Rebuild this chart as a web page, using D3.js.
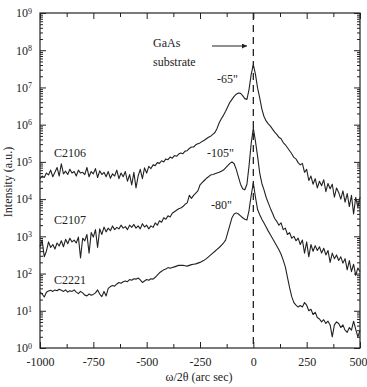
<!DOCTYPE html>
<html>
<head>
<meta charset="utf-8">
<script src="https://cdn.jsdelivr.net/npm/d3@7"></script>
<style>
body { margin: 0; background: #fff; }
text { font-family: "Liberation Serif", "Times New Roman", serif; fill: #222; }
</style>
</head>
<body>
<svg id="chart" width="367" height="387"></svg>
<script>
// x positions of the scans (arc sec), one sample every 10"
var angles = d3.range(-1000, 501, 10);

var xTicks = [-1000, -750, -500, -250, 0, 250, 500];
var xMinor = [-875, -625, -375, -125, 125, 375];
var yDecades = [0, 1, 2, 3, 4, 5, 6, 7, 8, 9];

// log10 of intensity
var c2106 = [
	4.55, 4.62, 4.58, 4.70, 4.65, 4.78, 4.60, 4.72, 4.85, 4.62,
	4.95, 4.68, 4.75, 4.66, 4.80, 4.70, 4.74, 4.62, 4.78, 4.70,
	4.72, 4.66, 4.85, 4.60, 4.74, 4.68, 4.82, 4.58, 4.76, 4.66,
	4.72, 4.60, 4.74, 4.56, 4.68, 4.62, 4.78, 4.55, 4.70, 4.60,
	4.74, 4.48, 4.66, 4.38, 4.72, 4.30, 4.62, 4.80, 4.55, 4.84,
	4.70, 4.88, 4.82, 4.92, 4.90, 4.98, 4.96, 5.03, 5.00, 5.08,
	5.06, 5.13, 5.10, 5.17, 5.15, 5.21, 5.24, 5.22, 5.29, 5.30,
	5.36, 5.40, 5.40, 5.46, 5.49, 5.51, 5.55, 5.58, 5.62, 5.66,
	5.69, 5.74, 5.79, 5.90, 6.05, 6.16, 6.25, 6.36, 6.48, 6.60,
	6.68, 6.76, 6.82, 6.85, 6.84, 6.78, 6.70, 6.68, 6.95, 7.35,
	7.61, 7.35, 6.98, 6.72, 6.42, 6.22, 6.10, 6.02, 5.96, 5.88,
	5.80, 5.74, 5.66, 5.62, 5.52, 5.46, 5.38, 5.30, 5.22, 5.12,
	5.08, 4.98, 4.92, 4.96, 4.72, 4.80, 4.50, 4.62, 4.40, 4.55,
	4.30, 4.48, 4.36, 4.52, 4.20, 4.42, 4.28, 4.40, 4.05, 4.30,
	4.18, 4.00, 4.22, 3.92, 4.15, 3.80, 4.10, 3.60, 4.05, 3.78,
	4.05
];

var c2107 = [
	2.72, 2.90, 2.45, 2.60, 2.85, 2.70, 2.78, 2.66, 2.82, 2.74,
	2.88, 2.72, 2.92, 2.80, 2.95, 2.85, 2.90, 2.82, 2.98, 2.42,
	2.95, 2.88, 3.05, 2.55, 3.10, 2.98, 3.18, 2.70, 3.20, 3.05,
	3.25, 3.12, 3.22, 3.15, 3.28, 3.18, 3.24, 3.20, 3.30, 3.22,
	3.26, 3.18, 3.30, 3.24, 3.32, 3.22, 3.28, 3.20, 3.34, 3.25,
	3.30, 3.20, 3.28, 3.24, 3.36, 3.30, 3.42, 3.38, 3.50, 3.46,
	3.55, 3.52, 3.62, 3.66, 3.70, 3.74, 3.76, 3.80, 3.86, 3.90,
	4.10, 4.02, 4.10, 4.16, 4.22, 4.38, 4.44, 4.50, 4.56, 4.60,
	4.65, 4.66, 4.68, 4.70, 4.72, 4.75, 4.78, 4.84, 4.90, 4.96,
	5.00, 4.95, 4.80, 4.60, 4.40, 4.28, 4.25, 4.40, 4.90, 5.50,
	5.91, 5.55, 5.15, 4.70, 4.42, 4.25, 4.05, 3.90, 3.75, 3.62,
	3.48, 3.40, 3.30, 3.36, 3.18, 3.22, 3.05, 3.10, 2.95, 3.00,
	2.88, 2.95, 2.78, 2.90, 2.55, 2.85, 2.45, 2.78, 2.60, 2.75,
	2.62, 2.72, 2.55, 2.68, 2.50, 2.62, 2.30, 2.55, 2.40, 2.50,
	2.35, 2.45, 2.28, 2.40, 2.10, 2.35, 2.05, 2.25, 1.95, 2.15,
	2.05
];

var c2221 = [
	1.51, 1.45, 1.37, 1.50, 1.53, 1.55, 1.52, 1.56, 1.54, 1.58,
	1.55, 1.52, 1.56, 1.50, 1.54, 1.52, 1.56, 1.50, 1.46, 1.52,
	1.48, 1.42, 1.40, 1.45, 1.42, 1.44, 1.48, 1.56, 1.45, 1.38,
	1.52, 1.40, 1.60, 1.65, 1.68, 1.66, 1.72, 1.76, 1.74, 1.78,
	1.80, 1.78, 1.84, 1.82, 1.86, 1.85, 1.88, 1.83, 1.76, 1.80,
	1.84, 1.82, 1.86, 1.85, 1.90, 1.96, 2.02, 2.06, 2.10, 2.12,
	2.16, 2.14, 2.16, 2.18, 2.20, 2.22, 2.22, 2.22, 2.21, 2.20,
	2.22, 2.24, 2.25, 2.26, 2.28, 2.30, 2.33, 2.36, 2.40, 2.45,
	2.50, 2.55, 2.60, 2.65, 2.70, 2.76, 2.82, 2.90, 3.10, 3.30,
	3.50, 3.60, 3.63, 3.60, 3.55, 3.50, 3.46, 3.44, 3.70, 4.10,
	4.44, 4.05, 3.72, 3.58, 3.46, 3.36, 3.25, 3.14, 3.04, 2.94,
	2.84, 2.74, 2.64, 2.52, 2.36, 2.18, 1.90, 1.62, 1.38, 1.22,
	1.15, 1.10, 1.14, 1.10, 1.22, 1.15, 1.00, 1.04, 0.90, 0.96,
	0.82, 0.78, 0.70, 0.76, 0.66, 0.72, 0.62, 0.30, 0.62, 0.70,
	0.66, 0.55, 0.62, 0.48, 0.42, 0.55, 0.48, 0.72, 0.50, 0.30,
	0.48
];

var series = [
	{name: "C2106", values: c2106, labelX: 54, labelY: 157},
	{name: "C2107", values: c2107, labelX: 54, labelY: 224},
	{name: "C2221", values: c2221, labelX: 54, labelY: 284}
];

var peakLabels = [
	{text: "-65\"", x: 217, y: 83},
	{text: "-105\"", x: 207, y: 157},
	{text: "-80\"", x: 211, y: 209}
];

var svg = d3.select("#chart");

var x = d3.scaleLinear().domain([-1000, 500]).range([40, 360]);
var y = d3.scaleLog().domain([1, 1e9]).range([348, 13]);

// minor log ticks 2..9 in each decade
var yMinor = [];
yDecades.slice(0, -1).forEach(function(k) {
	for (var m = 2; m <= 9; m++) yMinor.push(m * Math.pow(10, k));
});
var yMajor = yDecades.map(function(k) { return Math.pow(10, k); });

// bottom axis with labels
svg.append("g")
	.attr("transform", "translate(0,348)")
	.call(d3.axisBottom(x).tickValues(xTicks).tickSizeInner(-6).tickSizeOuter(0).tickPadding(9)
		.tickFormat(function(d) { return String(d); }))
	.call(function(g) {
		g.select(".domain").remove();
		g.selectAll("text").attr("font-size", 12);
		// last label sits on the window edge
		g.selectAll(".tick text").filter(function(d) { return d === 500; })
			.attr("text-anchor", "end").attr("x", 7);
	});
svg.append("g")
	.attr("transform", "translate(0,348)")
	.call(d3.axisBottom(x).tickValues(xMinor).tickSizeInner(-4).tickSizeOuter(0).tickFormat(""))
	.call(function(g) { g.select(".domain").remove(); });

// top axis, ticks only
svg.append("g")
	.attr("transform", "translate(0,13)")
	.call(d3.axisTop(x).tickValues(xTicks).tickSizeInner(-6).tickSizeOuter(0).tickFormat(""))
	.call(function(g) { g.select(".domain").remove(); });
svg.append("g")
	.attr("transform", "translate(0,13)")
	.call(d3.axisTop(x).tickValues(xMinor).tickSizeInner(-4).tickSizeOuter(0).tickFormat(""))
	.call(function(g) { g.select(".domain").remove(); });

// left axis with 10^n labels
svg.append("g")
	.attr("transform", "translate(40,0)")
	.call(d3.axisLeft(y).tickValues(yMajor).tickSizeInner(-6).tickSizeOuter(0).tickPadding(8).tickFormat(""))
	.call(function(g) {
		g.select(".domain").remove();
		g.selectAll(".tick text").each(function(d) {
			var t = d3.select(this)
				.attr("font-size", 12)
				.attr("dy", "0.32em");
			t.append("tspan").text("10");
			t.append("tspan")
				.attr("dy", "-0.45em")
				.attr("font-size", 8)
				.text(Math.round(Math.log10(d)));
		});
	});
svg.append("g")
	.attr("transform", "translate(40,0)")
	.call(d3.axisLeft(y).tickValues(yMinor).tickSizeInner(-3).tickSizeOuter(0).tickFormat(""))
	.call(function(g) { g.select(".domain").remove(); });

// right axis, ticks only
svg.append("g")
	.attr("transform", "translate(360,0)")
	.call(d3.axisRight(y).tickValues(yMajor).tickSizeInner(-6).tickSizeOuter(0).tickFormat(""))
	.call(function(g) { g.select(".domain").remove(); });
svg.append("g")
	.attr("transform", "translate(360,0)")
	.call(d3.axisRight(y).tickValues(yMinor).tickSizeInner(-3).tickSizeOuter(0).tickFormat(""))
	.call(function(g) { g.select(".domain").remove(); });

svg.selectAll(".tick line").attr("stroke", "#222");

// frame
svg.append("rect")
	.attr("x", 40).attr("y", 13)
	.attr("width", 320).attr("height", 335)
	.attr("fill", "none")
	.attr("stroke", "#222")
	.attr("stroke-width", 1.2);

// substrate position
svg.append("line")
	.attr("x1", x(0)).attr("x2", x(0))
	.attr("y1", 13).attr("y2", 348)
	.attr("stroke", "#222")
	.attr("stroke-width", 1.3)
	.attr("stroke-dasharray", "7,5");

// scans
var line = d3.line()
	.x(function(d, i) { return x(angles[i]); })
	.y(function(d) { return y(Math.pow(10, d)); });

svg.selectAll("path.scan")
	.data(series)
	.enter().append("path")
	.attr("class", "scan")
	.attr("d", function(d) { return line(d.values); })
	.attr("fill", "none")
	.attr("stroke", "#222")
	.attr("stroke-width", 1.1)
	.attr("stroke-linejoin", "round");

svg.selectAll("text.sample")
	.data(series)
	.enter().append("text")
	.attr("class", "sample")
	.attr("x", function(d) { return d.labelX; })
	.attr("y", function(d) { return d.labelY; })
	.attr("font-size", 12)
	.text(function(d) { return d.name; });

svg.selectAll("text.peak")
	.data(peakLabels)
	.enter().append("text")
	.attr("class", "peak")
	.attr("x", function(d) { return d.x; })
	.attr("y", function(d) { return d.y; })
	.attr("font-size", 12)
	.text(function(d) { return d.text; });

// GaAs substrate note + arrow
svg.append("text").attr("x", 153).attr("y", 47).attr("font-size", 12).text("GaAs");
svg.append("text").attr("x", 153).attr("y", 66).attr("font-size", 12).text("substrate");

svg.append("defs").append("marker")
	.attr("id", "arrowhead")
	.attr("viewBox", "0 0 10 10")
	.attr("refX", 10).attr("refY", 5)
	.attr("markerWidth", 9).attr("markerHeight", 5)
	.attr("markerUnits", "userSpaceOnUse")
	.attr("orient", "auto")
	.append("path")
	.attr("d", "M0,0L10,5L0,10Z")
	.attr("fill", "#222");

svg.append("line")
	.attr("x1", 212).attr("x2", 247)
	.attr("y1", 46).attr("y2", 46)
	.attr("stroke", "#222")
	.attr("stroke-width", 1.2)
	.attr("marker-end", "url(#arrowhead)");

// axis titles
svg.append("text")
	.attr("x", 199).attr("y", 381)
	.attr("text-anchor", "middle")
	.attr("font-size", 12)
	.text("ω/2θ (arc sec)");

svg.append("text")
	.attr("transform", "translate(12,182) rotate(-90)")
	.attr("text-anchor", "middle")
	.attr("font-size", 12)
	.text("Intensity (a.u.)");
</script>
</body>
</html>
